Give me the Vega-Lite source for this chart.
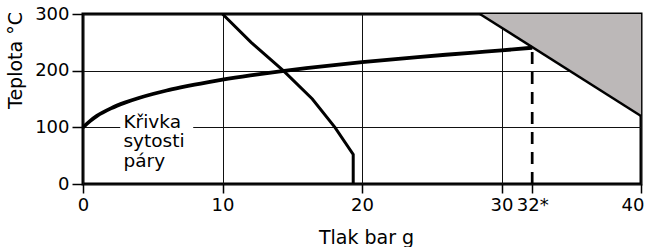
{
  "$schema": "https://vega.github.io/schema/vega-lite/v6.json",
  "width": 558,
  "height": 170,
  "autosize": {"type": "none"},
  "padding": {"left": 83, "top": 14, "right": 5, "bottom": 63},
  "background": "white",
  "config": {
    "view": {"stroke": "black", "strokeWidth": 3},
    "axis": {"domain": false, "labelFont": "DejaVu Sans", "titleFont": "DejaVu Sans", "labelFontSize": 18, "titleFontSize": 19, "titleFontWeight": "normal", "labelColor": "black", "titleColor": "black", "tickColor": "black", "tickWidth": 1.5, "gridColor": "#111", "gridWidth": 1, "gridOpacity": 1}
  },
  "datasets": {
    "box": [{"p": 2.67, "p2": 7.9, "t": 5, "t2": 125}],
    "gray": [{"p": 28.45, "t": 300}, {"p": 40, "t": 120}],
    "limit": [{"p": 10, "t": 300}, {"p": 12.05, "t": 250}, {"p": 14.36, "t": 200}, {"p": 16.44, "t": 150}, {"p": 18.06, "t": 100}, {"p": 19.37, "t": 52}, {"p": 19.37, "t": 0}],
    "sat": [{"p": 0, "t": 100}, {"p": 0.5, "t": 111}, {"p": 1, "t": 120.2}, {"p": 2, "t": 133.5}, {"p": 3, "t": 143.6}, {"p": 4, "t": 151.8}, {"p": 5, "t": 158.8}, {"p": 6, "t": 165}, {"p": 7, "t": 170.4}, {"p": 8, "t": 175.4}, {"p": 9, "t": 179.9}, {"p": 10, "t": 184.1}, {"p": 12, "t": 191.6}, {"p": 14, "t": 198.3}, {"p": 16, "t": 204.3}, {"p": 18, "t": 209.8}, {"p": 20, "t": 214.9}, {"p": 22, "t": 219.6}, {"p": 24, "t": 224}, {"p": 26, "t": 228.1}, {"p": 28, "t": 232}, {"p": 30, "t": 235.7}, {"p": 32.2, "t": 240.5}],
    "dash": [{"p": 32.2, "t": 0, "t2": 240}],
    "labels": [{"p": 2.9, "t": 99.4, "text": ["Křivka", "sytosti", "páry"]}]
  },
  "layer": [
    {
      "data": {"name": "box"},
      "mark": {"type": "rect", "fill": "white"},
      "encoding": {
        "x": {"field": "p", "type": "quantitative", "scale": {"domain": [0, 40], "nice": false, "zero": false},
          "axis": {"title": "Tlak bar g", "values": [0, 10, 20, 30, 32.2, 40], "grid": true, "tickSize": 9, "labelPadding": 3,
            "labelExpr": "datum.value == 32.2 ? '32*' : datum.label",
            "labelAlign": {"condition": {"test": "datum.value == 40", "value": "right"}, "value": "center"},
            "labelOffset": {"condition": {"test": "datum.value == 40", "value": 3}, "value": 0},
            "gridOpacity": {"condition": {"test": "datum.value == 32.2", "value": 0}, "value": 1},
            "titleX": 283, "titleY": 44}},
        "x2": {"field": "p2"},
        "y": {"field": "t", "type": "quantitative", "scale": {"domain": [0, 300], "nice": false, "zero": false},
          "axis": {"title": "Teplota °C", "values": [0, 50, 100, 150, 200, 250, 300], "grid": true, "tickSize": 11, "labelPadding": 3,
            "labelExpr": "datum.value % 100 == 0 ? datum.label : ''",
            "tickOpacity": {"condition": {"test": "datum.value % 100 != 0", "value": 0}, "value": 1},
            "titleX": -58, "titleY": 46}},
        "y2": {"field": "t2"}
      }
    },
    {
      "data": {"name": "gray"},
      "mark": {"type": "area", "fill": "#bcb8b8", "opacity": 1},
      "encoding": {
        "x": {"field": "p", "type": "quantitative"},
        "y": {"field": "t", "type": "quantitative"},
        "y2": {"datum": 300}
      }
    },
    {
      "data": {"name": "gray"},
      "mark": {"type": "line", "color": "black", "strokeWidth": 2.5},
      "encoding": {
        "x": {"field": "p", "type": "quantitative"},
        "y": {"field": "t", "type": "quantitative"}
      }
    },
    {
      "data": {"name": "limit"},
      "mark": {"type": "line", "color": "black", "strokeWidth": 3},
      "encoding": {
        "x": {"field": "p", "type": "quantitative"},
        "y": {"field": "t", "type": "quantitative"},
        "order": {"field": "t", "sort": "descending"}
      }
    },
    {
      "data": {"name": "sat"},
      "mark": {"type": "line", "color": "black", "strokeWidth": 3.8, "interpolate": "monotone"},
      "encoding": {
        "x": {"field": "p", "type": "quantitative"},
        "y": {"field": "t", "type": "quantitative"}
      }
    },
    {
      "data": {"name": "dash"},
      "mark": {"type": "rule", "color": "black", "strokeWidth": 2.7, "strokeDash": [12, 8]},
      "encoding": {
        "x": {"field": "p", "type": "quantitative"},
        "y": {"field": "t", "type": "quantitative"},
        "y2": {"field": "t2"}
      }
    },
    {
      "data": {"name": "labels"},
      "mark": {"type": "text", "align": "left", "baseline": "alphabetic", "font": "DejaVu Sans", "fontSize": 18.5, "lineHeight": 19.5, "color": "black"},
      "encoding": {
        "x": {"field": "p", "type": "quantitative"},
        "y": {"field": "t", "type": "quantitative"},
        "text": {"field": "text"}
      }
    }
  ]
}
